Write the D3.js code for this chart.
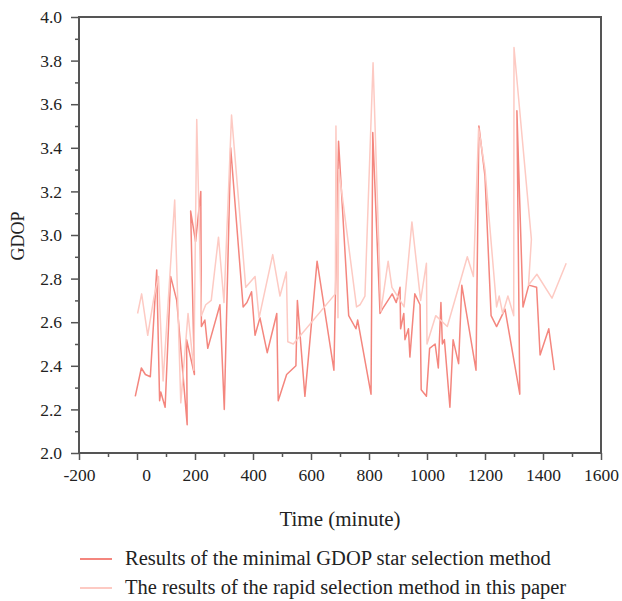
<!DOCTYPE html>
<html>
<head>
<meta charset="utf-8">
<script src="https://d3js.org/d3.v7.min.js"></script>
<style>
  body { margin: 0; background: #fff; }
  svg text { font-family: "Liberation Serif", "DejaVu Serif", serif; fill: #222; }
</style>
</head>
<body>
<svg id="chart" width="622" height="601"></svg>
<script>
// minimal GDOP star selection (darker line)
const minimalTime = [-6, 15, 29, 46, 68, 78, 82, 97, 116, 137, 173, 171, 198, 185, 202, 220, 222, 234, 244, 286,
  301, 323, 366, 379, 395, 407, 424, 449, 482, 487, 516, 548, 553, 579, 621, 679, 695, 730, 755, 761,
  807, 813, 838, 846, 880, 894, 907, 909, 920, 924, 936, 941, 958, 976, 980, 998, 1009, 1028, 1039, 1048,
  1053, 1060, 1079, 1090, 1109, 1120, 1169, 1179, 1200, 1221, 1240, 1269, 1320, 1310, 1331, 1351, 1378, 1390, 1420, 1439];
const minimalGdop = [2.26, 2.39, 2.36, 2.35, 2.84, 2.24, 2.28, 2.21, 2.81, 2.70, 2.13, 2.52, 2.36, 3.11, 2.97, 3.20, 2.58, 2.61, 2.48, 2.68,
  2.20, 3.40, 2.67, 2.69, 2.74, 2.54, 2.62, 2.46, 2.64, 2.24, 2.36, 2.40, 2.70, 2.26, 2.88, 2.38, 3.43, 2.63, 2.57, 2.61,
  2.27, 3.47, 2.64, 2.66, 2.73, 2.69, 2.76, 2.57, 2.64, 2.52, 2.57, 2.44, 2.73, 2.68, 2.29, 2.26, 2.48, 2.50, 2.39, 2.69,
  2.50, 2.52, 2.21, 2.52, 2.41, 2.77, 2.38, 3.50, 3.27, 2.63, 2.58, 2.66, 2.27, 3.57, 2.67, 2.77, 2.76, 2.45, 2.57, 2.38];

// rapid selection method (lighter line)
const rapidTime = [2, 16, 37, 58, 74, 90, 130, 151, 176, 196, 206, 222, 237, 256, 281, 300, 326, 375, 407, 421,
  468, 493, 515, 520, 539, 684, 686, 693, 696, 757, 769, 786, 814, 841, 866, 879, 898, 921, 948, 978,
  998, 1000, 1030, 1070, 1139, 1160, 1178, 1200, 1240, 1249, 1261, 1279, 1299, 1300, 1360, 1350, 1379, 1431, 1480];
const rapidGdop = [2.64, 2.73, 2.54, 2.71, 2.81, 2.33, 3.16, 2.23, 2.64, 2.38, 3.53, 2.63, 2.68, 2.70, 2.99, 2.69, 3.55, 2.76, 2.81, 2.62,
  2.91, 2.72, 2.83, 2.51, 2.50, 2.73, 3.50, 2.62, 3.30, 2.67, 2.68, 2.72, 3.79, 2.65, 2.88, 2.76, 2.72, 2.67, 3.06, 2.70,
  2.87, 2.50, 2.63, 2.58, 2.90, 2.81, 3.49, 3.30, 2.67, 2.72, 2.64, 2.72, 2.63, 3.86, 2.98, 2.77, 2.82, 2.71, 2.87];

const xTicks = [-200, 0, 200, 400, 600, 800, 1000, 1200, 1400, 1600];
const yTicks = [2.0, 2.2, 2.4, 2.6, 2.8, 3.0, 3.2, 3.4, 3.6, 3.8, 4.0];
const seriesNames = ["Results of the minimal GDOP star selection method",
  "The results of the rapid selection method in this paper"];
const seriesColors = ["#f4867e", "#fdcac3"];

const svg = d3.select("#chart");
const plotLeft = 79, plotRight = 601, plotTop = 17, plotBottom = 453;

const x = d3.scaleLinear().domain([-200, 1600]).range([plotLeft, plotRight]);
const y = d3.scaleLinear().domain([2, 4]).range([plotBottom, plotTop]);

// x axis, major + minor ticks
const xAxis = svg.append("g").attr("transform", `translate(0,${plotBottom})`)
  .call(d3.axisBottom(x).tickValues(xTicks).tickSize(7).tickPadding(9).tickFormat(d => String(d)));
svg.append("g").attr("transform", `translate(0,${plotBottom})`)
  .call(d3.axisBottom(x).tickValues(d3.range(-100, 1600, 200)).tickSize(4).tickFormat(""));
xAxis.selectAll(".tick text").filter(d => d === 0).attr("x", 9);

// y axis
svg.append("g").attr("transform", `translate(${plotLeft},0)`)
  .call(d3.axisLeft(y).tickValues(yTicks).tickSize(8).tickPadding(9).tickFormat(d3.format(".1f")));
svg.append("g").attr("transform", `translate(${plotLeft},0)`)
  .call(d3.axisLeft(y).tickValues(d3.range(2.1, 4, 0.2)).tickSize(4).tickFormat(""));

svg.selectAll(".domain").remove();
svg.selectAll(".tick line").attr("stroke", "#555").attr("stroke-width", 1.5);
svg.selectAll(".tick text").style("font-size", "17.5px").attr("fill", "#222");

// frame
svg.append("rect")
  .attr("x", plotLeft).attr("y", plotTop)
  .attr("width", plotRight - plotLeft).attr("height", plotBottom - plotTop)
  .attr("fill", "none").attr("stroke", "#555").attr("stroke-width", 2);

// lines
const line = d3.line().x(d => x(d[0])).y(d => y(d[1]));
const series = [d3.zip(minimalTime, minimalGdop), d3.zip(rapidTime, rapidGdop)];
series.forEach((s, i) => {
  svg.append("path").datum(s)
    .attr("d", line)
    .attr("fill", "none")
    .attr("stroke", seriesColors[i])
    .attr("stroke-width", 1.5)
    .attr("stroke-linejoin", "round");
});

// axis titles
svg.append("text")
  .attr("x", 340).attr("y", 526)
  .attr("text-anchor", "middle")
  .style("font-size", "21px")
  .text("Time (minute)");
svg.append("text")
  .attr("transform", "translate(24,236) rotate(-90)")
  .attr("text-anchor", "middle")
  .style("font-size", "18px")
  .text("GDOP");

// legend
seriesNames.forEach((name, i) => {
  const ly = 559 + i * 29;
  svg.append("line")
    .attr("x1", 80).attr("x2", 112).attr("y1", ly).attr("y2", ly)
    .attr("stroke", seriesColors[i]).attr("stroke-width", 2);
  svg.append("text")
    .attr("x", 125).attr("y", ly + 6)
    .style("font-size", "20.5px")
    .text(name);
});
</script>
</body>
</html>
